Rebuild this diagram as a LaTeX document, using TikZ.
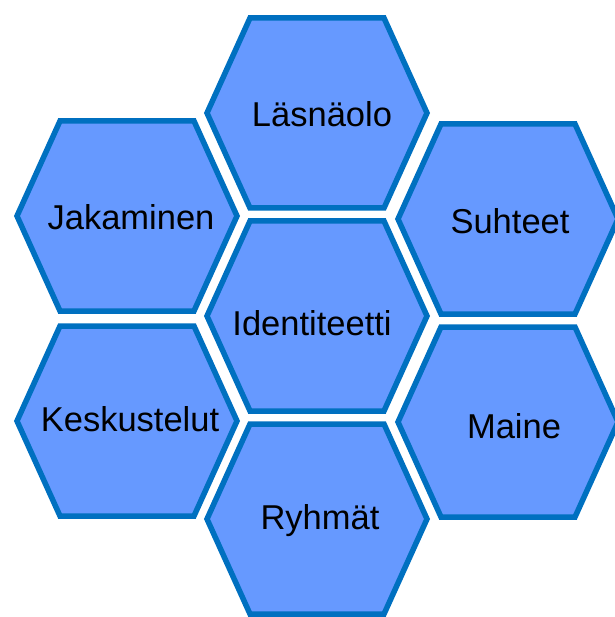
\documentclass[tikz,border=0pt]{standalone}
\usepackage{fontspec}
\setmainfont{Liberation Sans}
\definecolor{hexfill}{RGB}{102,153,255}
\definecolor{hexline}{RGB}{0,112,192}

\begin{document}
\begin{tikzpicture}[x=1pt,y=-1pt,
            hex/.style={draw=hexline,fill=hexfill,line width=5.5pt},
            every node/.style={font=\fontsize{34.5}{40}\selectfont,inner sep=0pt}
          ]
          \useasboundingbox (0,0) rectangle (614,617);

          \foreach \cx/\cy in {317/113,127/216,508/219,317/316,127/421,508/422,317/519}
          \draw[hex] (\cx-110,\cy) -- (\cx-67,\cy-95) -- (\cx+67,\cy-95)
          -- (\cx+110,\cy) -- (\cx+67,\cy+95) -- (\cx-67,\cy+95) -- cycle;

          \node (lasnaolo) at (322,114) {Läsnäolo};
          \node (jakaminen) at (131,217) {Jakaminen};
          \node (suhteet) at (510,221) {Suhteet};
          \node (identiteetti) at (312,323) {Identiteetti};
          \node (keskustelut) at (130,419) {Keskustelut};
          \node (maine) at (514,426) {Maine};
          \node (ryhmat) at (320,521) {Ryhmät};
          \end{tikzpicture}
\end{document}
